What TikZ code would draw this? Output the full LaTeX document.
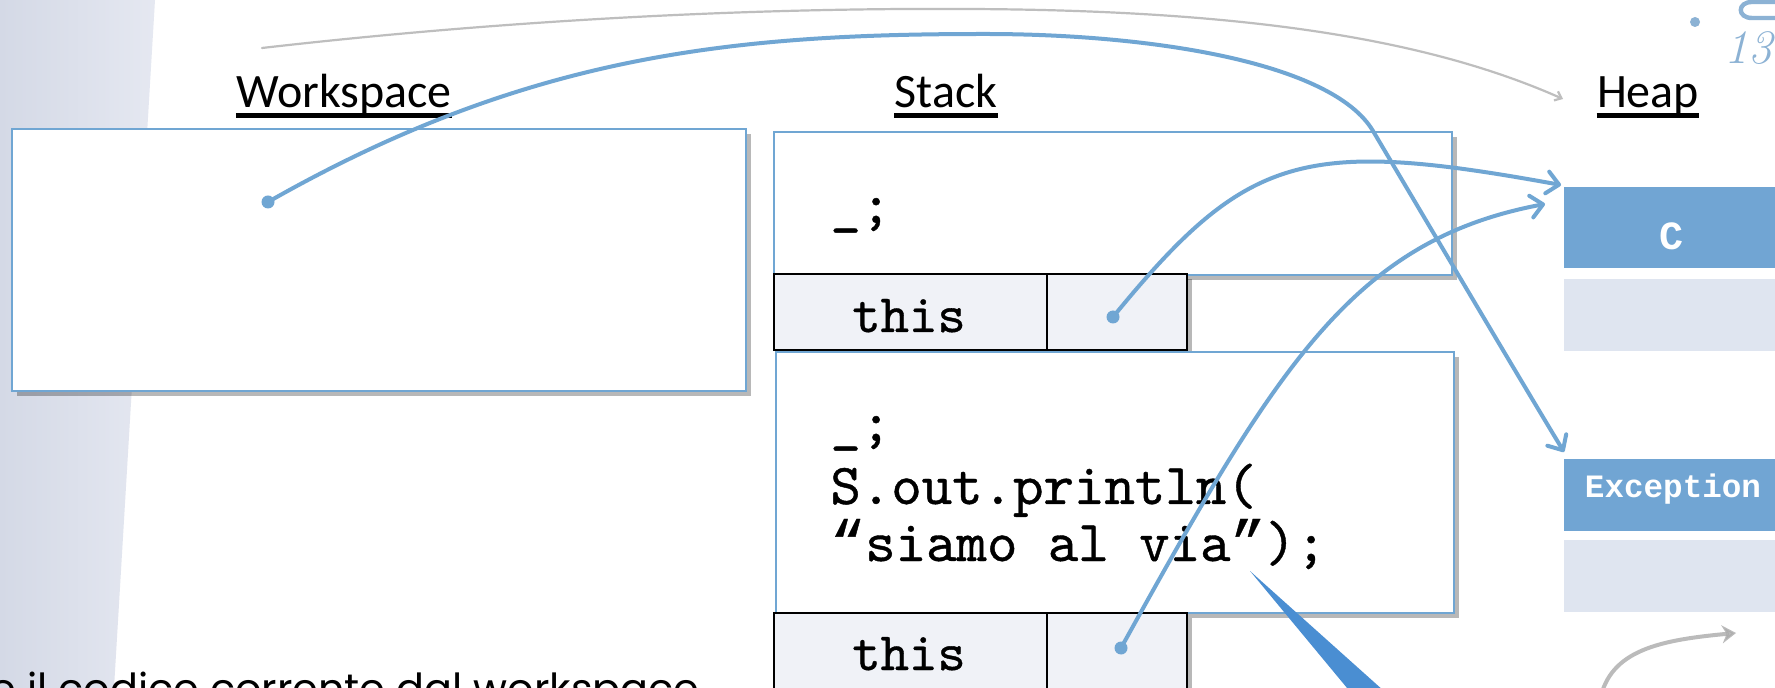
\documentclass[tikz,border=0pt]{standalone}
\usepackage{fontspec}
\newfontfamily\calibri{Carlito}
\newfontfamily\couriernew{Liberation Mono}
\newfontfamily\gothic{Poppins}
\newfontfamily\codefont{lmmono10-regular.otf}[FakeBold=0.7]
\newfontfamily\quotefont{Liberation Mono}[FakeBold=0.7]
\usetikzlibrary{arrows.meta,shadows}
\definecolor{lblue}{RGB}{112,166,211}
\definecolor{hblue}{RGB}{113,165,211}
\definecolor{hlight}{RGB}{223,229,240}
\definecolor{rowfill}{RGB}{240,242,247}
\definecolor{wedgeblue}{RGB}{74,142,210}
\definecolor{bandL}{RGB}{212,217,230}
\definecolor{bandR}{RGB}{229,232,241}
\definecolor{faintblue}{RGB}{140,178,212}
\definecolor{greyline}{RGB}{190,190,190}
\tikzset{
  shad/.style={drop shadow={shadow xshift=2.5pt,shadow yshift=-2.5pt,opacity=.28,fill=black}},
  framebox/.style={draw=lblue,line width=1pt,fill=white,shad,anchor=north west,inner sep=0pt},
  rowcell/.style={draw=black,line width=1.2pt,fill=rowfill,anchor=north west,inner sep=0pt},
  heapbox/.style={fill=hblue,anchor=north west,inner sep=0pt,minimum width=113pt,minimum height=36pt},
  heaplight/.style={fill=hlight,anchor=north west,inner sep=0pt,minimum width=113pt,minimum height=36pt},
  lab/.style={font=\calibri\fontsize{24}{28}\selectfont,inner sep=0pt,anchor=base},
  code/.style={font=\codefont\fontsize{29}{31}\selectfont,inner sep=0pt,anchor=base west},
  thistxt/.style={font=\codefont\fontsize{27}{29}\selectfont,inner sep=0pt,anchor=base},
  heaptxt/.style={text=white,inner sep=0pt,anchor=base},
  dotn/.style={circle,fill=lblue,inner sep=0pt,minimum size=6.5pt},
  ptr/.style={draw=lblue,line width=2pt,line cap=round,-{Straight Barb[length=6pt,width=11pt,round]}},
  uline/.style={line width=2.4pt}
}
\begin{document}
\begin{tikzpicture}[x=0.5pt,y=-0.5pt]
\useasboundingbox (0,0) rectangle (1775,688);
\fill[white] (0,0) rectangle (1775,688);
% left band
\shade[left color=bandL,right color=bandR] (0,0) -- (155,0) -- (114,688) -- (0,688) -- cycle;

% labels
\node[lab] (wsl) at (344,108) {Workspace};
\node[lab] (stl) at (946,108) {Stack};
\node[lab] (hpl) at (1648,108) {Heap};
\foreach \n in {wsl,stl,hpl}{
  \draw[uline] ([yshift=-3.8pt]\n.base west) -- ([yshift=-3.8pt]\n.base east);
}

% workspace
\node[framebox,minimum width=367pt,minimum height=131pt] (ws) at (11,128) {};

% stack frame 1
\node[framebox,minimum width=339pt,minimum height=71.5pt] (f1) at (773,131) {};
\node[code] (f1c) at (830,223) {\_;};
\node[rowcell,shad,minimum width=136.5pt,minimum height=38pt] (t1a) at (773,273) {};
\node[rowcell,shad,minimum width=70pt,minimum height=38pt] (t1b) at (1046,273) {};
\node[thistxt] (t1t) at (909,332) {this};

% stack frame 2
\node[framebox,minimum width=339pt,minimum height=130.5pt] (f2) at (775,351) {};
\node[code] (f2a) at (830,441) {\_;};
\node[code] (f2b) at (830,504) {S.out.println(};
\node[code] (f2c) at (830,561) {{\quotefont “}siamo al via{\quotefont ”});};
\node[rowcell,shad,minimum width=136.5pt,minimum height=44pt] (t2a) at (773,612) {};
\node[rowcell,shad,minimum width=70pt,minimum height=44pt] (t2b) at (1046,612) {};
\node[thistxt] (t2t) at (909,670) {this};

% heap
\node[heapbox,minimum height=40.5pt] (cbox) at (1564,187) {};
\node[heaplight] (cbody) at (1564,279) {};
\node[heaptxt,font=\couriernew\bfseries\fontsize{20}{22}\selectfont] (ctxt) at (1671,250) {C};
\node[heapbox] (exc) at (1564,459) {};
\node[heaplight] (excbody) at (1564,540) {};
\node[heaptxt,font=\couriernew\bfseries\fontsize{16.3}{18}\selectfont] (exctxt) at (1673,498) {Exception};

% bottom text (cut off)
\node[font=\gothic\fontsize{20.7}{24}\selectfont,inner sep=0pt,anchor=base west] (bt) at (-10,703) {e il codice corrente dal workspace};

% callout wedge
\fill[wedgeblue] (1250,571) -- (1357,700) -- (1394,700) -- cycle;

% grey curved arrow bottom right
\draw[black!33,line width=2pt,opacity=.8,-{Stealth[length=7pt,width=9pt]}] (1600,700) .. controls (1610,650) and (1660,640) .. (1736,633);

% top right remnants
\fill[faintblue] (1695,22) circle (5);
\draw[faintblue,line width=2.2pt] (1790,2) -- (1752,2) .. controls (1737,2) and (1737,18) .. (1752,18) -- (1790,18);
\node[font=\itshape\fontsize{24}{26}\selectfont,text=faintblue,inner sep=0pt,anchor=base west] (num) at (1724,64) {13};

% grey thin curve
\draw[greyline,line width=1.1pt,line cap=round,-{Straight Barb[length=3pt,width=5pt]}] (262,48) .. controls (550,15) and (800,8) .. (966,9) .. controls (1250,10) and (1430,40) .. (1563,99);

% dots
\node[dotn] (wsdot) at (268,202) {};
\node[dotn] (d1) at (1113,317) {};
\node[dotn] (d2) at (1121,648) {};

% pointers
\draw[ptr] (wsdot.center) .. controls (528,54) and (735,34) .. (985,34)
  .. controls (1150,34) and (1332,62) .. (1373,131)
  .. controls (1424,217) and (1512,366) .. ([yshift=3.5pt]exc.north west);
\draw[ptr] (d1.center) .. controls (1247,153) and (1303,138) .. ([xshift=-1.5pt,yshift=1pt]cbox.north west);
\draw[ptr] (d2.center) .. controls (1277,366) and (1353,240) .. ([xshift=-9.5pt,yshift=-8.5pt]cbox.north west);
\end{tikzpicture}
\end{document}
